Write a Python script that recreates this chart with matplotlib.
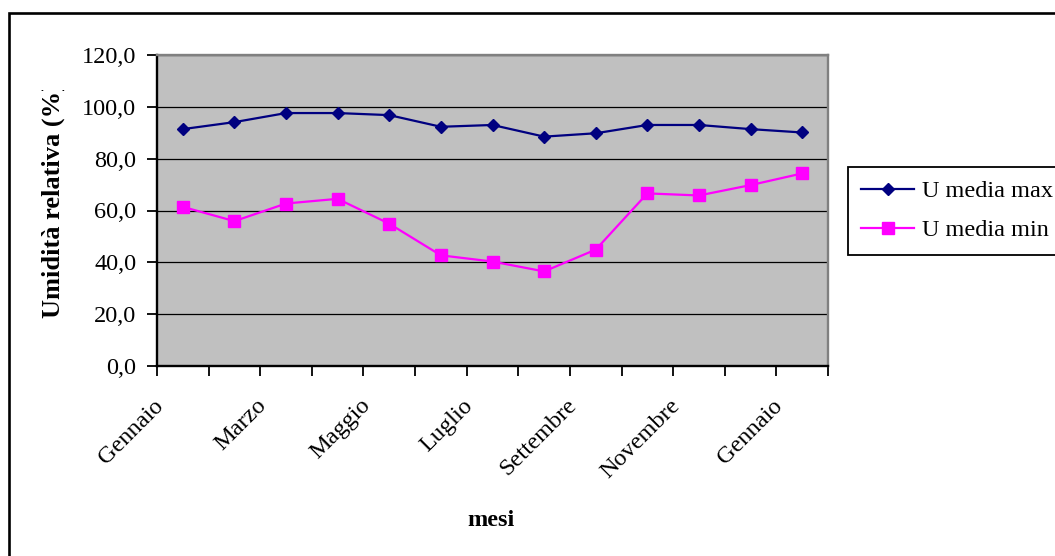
import matplotlib
matplotlib.use("Agg")
import matplotlib.pyplot as plt
from matplotlib.patches import Rectangle
from matplotlib.ticker import FixedLocator, FuncFormatter
from matplotlib.transforms import Bbox, TransformedBbox, ScaledTranslation

# Monthly mean relative humidity (%)
mesi = ["Gennaio", "Febbraio", "Marzo", "Aprile", "Maggio", "Giugno", "Luglio",
        "Agosto", "Settembre", "Ottobre", "Novembre", "Dicembre", "Gennaio"]
u_media_max = [91.4, 94.1, 97.6, 97.6, 96.8, 92.3, 93.0, 88.5, 89.8, 93.0, 93.0, 91.4, 90.1]
u_media_min = [61.4, 55.9, 62.7, 64.5, 54.9, 42.7, 40.3, 36.5, 44.9, 66.6, 65.8, 69.8, 74.3]
y_ticks = [0, 20, 40, 60, 80, 100, 120]

W, H = 1055, 556
plt.rcParams["font.family"] = ["Liberation Serif", "DejaVu Serif"]
FS = 17.5

fig = plt.figure(figsize=(W / 100, H / 100), dpi=100)


def fx(px):
    return px / W


def fy(py):
    return 1 - py / H


# chart frame (runs off the right and bottom edges)
fig.patches.append(Rectangle((fx(8.7), -0.1), 1.2, fy(13) + 0.1, transform=fig.transFigure,
                             fill=False, edgecolor="black", linewidth=1.9, zorder=0))

ax = fig.add_axes([fx(157), fy(366), fx(828) - fx(157), fy(55) - fy(366)])
ax.set_facecolor("#C0C0C0")

x = list(range(len(mesi)))
ax.plot(x, u_media_max, color="#000080", linewidth=1.6, marker="D", markersize=6.2,
        markerfacecolor="#000080", markeredgecolor="#000080", label="U media max", zorder=3)
ax.plot(x, u_media_min, color="#FF00FF", linewidth=1.6, marker="s", markersize=8.5,
        markerfacecolor="#FF00FF", markeredgecolor="#FF00FF", label="U media min", zorder=3)

ax.set_xlim(-0.5, len(mesi) - 0.5)
ax.set_ylim(0, 120)

ax.set_yticks(y_ticks)
ax.yaxis.set_major_formatter(FuncFormatter(lambda v, p: f"{v:.1f}".replace(".", ",")))
ax.yaxis.grid(True, color="black", linewidth=0.9)
ax.set_axisbelow(True)

label_pos = x[::2]
ax.xaxis.set_major_locator(FixedLocator(label_pos))
ax.set_xticklabels(mesi[::2])
ax.xaxis.set_minor_locator(FixedLocator([i - 0.5 for i in range(len(mesi) + 1)]))
ax.tick_params(axis="x", which="major", length=0, pad=21, labelsize=FS)
ax.tick_params(axis="x", which="minor", length=7, width=1.3, direction="out", color="black")
ax.tick_params(axis="y", length=7, width=1.3, direction="out", pad=8, labelsize=FS)
shift = ScaledTranslation(-15 / 100, 0, fig.dpi_scale_trans)
for lab in ax.get_xticklabels():
    lab.set_rotation(45)
    lab.set_ha("right")
    lab.set_va("top")
    lab.set_transform(lab.get_transform() + shift)

for side in ("left", "bottom"):
    ax.spines[side].set_color("black")
    ax.spines[side].set_linewidth(1.7)
for side in ("top", "right"):
    ax.spines[side].set_color("#808080")
    ax.spines[side].set_linewidth(1.7)

# axis titles
fig.text(fx(491), fy(521), "mesi", ha="center", va="center", fontsize=FS, fontweight="bold")
ylab = fig.text(fx(53), fy(318), "Umidità relativa (%)", rotation=90, ha="center", va="bottom",
                fontsize=19, fontweight="bold")
ylab.set_clip_box(TransformedBbox(Bbox([[0, 0], [fx(120), fy(90)]]), fig.transFigure))
ylab.set_clip_on(True)

leg = ax.legend(loc="upper left", bbox_to_anchor=(fx(848), fy(167)), bbox_transform=fig.transFigure,
                frameon=True, fancybox=False, edgecolor="black", framealpha=1, borderaxespad=0,
                fontsize=FS, handlelength=2.17, handletextpad=0.33, borderpad=0.55,
                labelspacing=0.7, numpoints=1)
leg.get_frame().set_linewidth(1.3)

fig.savefig("out.png", dpi=100)
